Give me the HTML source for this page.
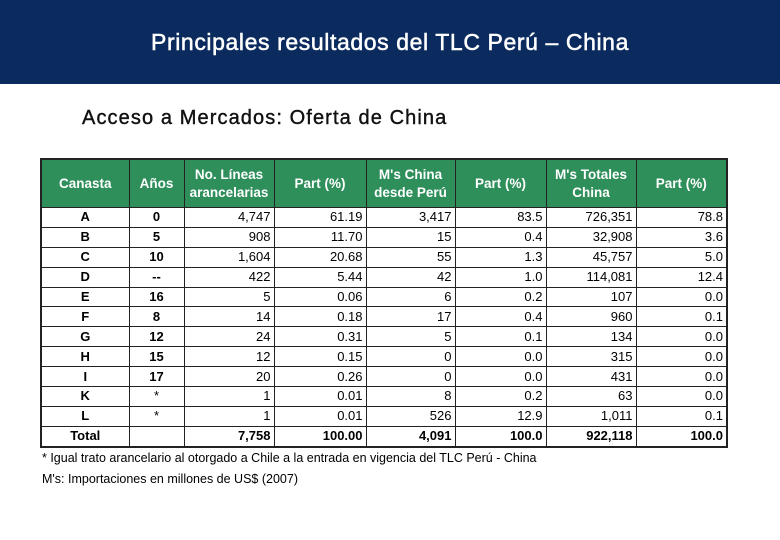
<!DOCTYPE html>
<html><head><meta charset="utf-8"><style>
body{margin:0;width:780px;height:540px;background:#fff;position:relative;overflow:hidden;font-family:"Liberation Sans",Arial,sans-serif}
#bar{position:absolute;left:0;top:0;width:780px;height:84px;background:#0b2b5e}
#title{position:absolute;left:0;top:29px;width:780px;text-align:center;color:#fff;font-size:23px;font-family:"Liberation Sans",sans-serif;font-weight:normal;letter-spacing:0.6px;-webkit-text-stroke:0.5px #fff}
#sub{position:absolute;left:82px;top:107px;font-size:20px;color:#111;letter-spacing:1.1px;-webkit-text-stroke:0.4px #111}
table{position:absolute;left:40px;top:158px;border-collapse:collapse;table-layout:fixed;border:2.5px solid #222}
td,th{border:1.5px solid #222;padding:0 3px;font-size:13px;height:18.9px;line-height:16px}
th{background:#2f8f5b;color:#fff;font-weight:bold;height:47px;text-align:center;font-size:13.5px;line-height:18px}
td{text-align:right;color:#000}
td.c{text-align:center;font-weight:bold}
tr.tot td{font-weight:bold}
.note{position:absolute;left:42px;font-size:12.5px;color:#000}
</style></head><body>
<div id="bar"></div>
<div id="title">Principales resultados del TLC Perú – China</div>
<div id="sub">Acceso a Mercados: Oferta de China</div>
<table>
<colgroup><col style="width:88px"><col style="width:55px"><col style="width:90px"><col style="width:92px"><col style="width:89px"><col style="width:91px"><col style="width:90px"><col style="width:91px"></colgroup>
<tr><th>Canasta</th><th>Años</th><th>No. Líneas arancelarias</th><th>Part (%)</th><th>M's China desde Perú</th><th>Part (%)</th><th>M's Totales China</th><th>Part (%)</th></tr>
<tr><td class="c">A</td><td class="c">0</td><td>4,747</td><td>61.19</td><td>3,417</td><td>83.5</td><td>726,351</td><td>78.8</td></tr>
<tr><td class="c">B</td><td class="c">5</td><td>908</td><td>11.70</td><td>15</td><td>0.4</td><td>32,908</td><td>3.6</td></tr>
<tr><td class="c">C</td><td class="c">10</td><td>1,604</td><td>20.68</td><td>55</td><td>1.3</td><td>45,757</td><td>5.0</td></tr>
<tr><td class="c">D</td><td class="c">--</td><td>422</td><td>5.44</td><td>42</td><td>1.0</td><td>114,081</td><td>12.4</td></tr>
<tr><td class="c">E</td><td class="c">16</td><td>5</td><td>0.06</td><td>6</td><td>0.2</td><td>107</td><td>0.0</td></tr>
<tr><td class="c">F</td><td class="c">8</td><td>14</td><td>0.18</td><td>17</td><td>0.4</td><td>960</td><td>0.1</td></tr>
<tr><td class="c">G</td><td class="c">12</td><td>24</td><td>0.31</td><td>5</td><td>0.1</td><td>134</td><td>0.0</td></tr>
<tr><td class="c">H</td><td class="c">15</td><td>12</td><td>0.15</td><td>0</td><td>0.0</td><td>315</td><td>0.0</td></tr>
<tr><td class="c">I</td><td class="c">17</td><td>20</td><td>0.26</td><td>0</td><td>0.0</td><td>431</td><td>0.0</td></tr>
<tr><td class="c">K</td><td class="c" style="font-weight:normal">*</td><td>1</td><td>0.01</td><td>8</td><td>0.2</td><td>63</td><td>0.0</td></tr>
<tr><td class="c">L</td><td class="c" style="font-weight:normal">*</td><td>1</td><td>0.01</td><td>526</td><td>12.9</td><td>1,011</td><td>0.1</td></tr>
<tr class="tot"><td class="c">Total</td><td></td><td>7,758</td><td>100.00</td><td>4,091</td><td>100.0</td><td>922,118</td><td>100.0</td></tr>
</table>
<div class="note" style="top:451px">* Igual trato arancelario al otorgado a Chile a la entrada en vigencia del TLC Perú - China</div>
<div class="note" style="top:472px">M's: Importaciones en millones de US$ (2007)</div>
</body></html>
